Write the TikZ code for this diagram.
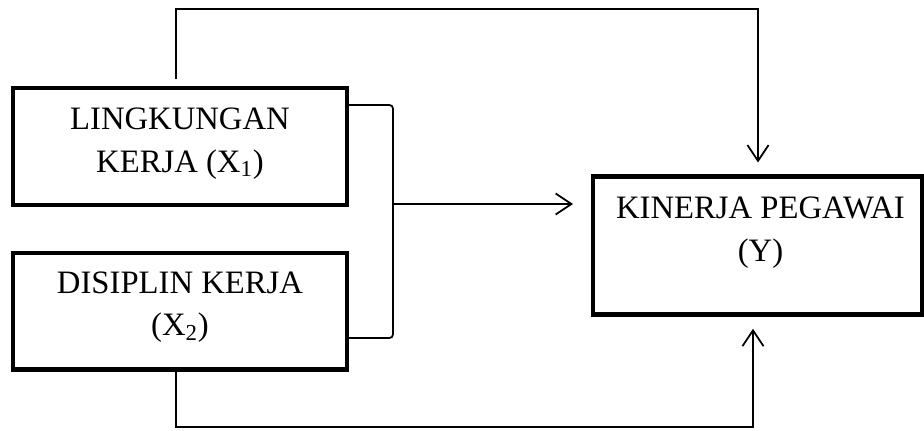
\documentclass[tikz,border=0pt]{standalone}
\usepackage{fontspec}
\setmainfont{Liberation Serif}
\usetikzlibrary{arrows.meta, positioning}

\begin{document}
\begin{tikzpicture}[x=0.02cm,y=-0.02cm,>={Straight Barb[length=9pt,width=12pt]},line width=1pt,
	var node/.style={rectangle,draw,line width=2.3pt,minimum width=6.68cm,minimum height=2.34cm,inner sep=0pt},
	var text/.style={align=center,font=\fontsize{18.6}{24.2}\selectfont}]
	
	\useasboundingbox (0,0) rectangle (924,430);
	
	\node[var node] (x1) at (180,146.5) {};
	\node[var node] (x2) [below=0.87cm of x1] {};
	\node[var node,minimum width=6.58cm,minimum height=2.76cm] (y) at (757.5,245.5) {};
	
	\node[var text,yshift=0.06cm] (t1) at (x1) {LINGKUNGAN\\KERJA (X\textsubscript{1})};
	\node[var text,yshift=0.08cm] (t2) at (x2) {DISIPLIN KERJA\\(X\textsubscript{2})};
	\node[var text,xshift=0.06cm,yshift=0.26cm] (ty) at (y) {KINERJA PEGAWAI\\(Y)};
	
	\draw[->] ([shift={(-4,-7)}]x1.north) -- ++(0,-70) -| ([shift={(0.5,-12)}]y.north);
	\draw[rounded corners=2pt] ([shift={(0,-41.5)}]x1.east) -- ++(44,0) |- ([shift={(0,27)}]x2.east);
	\draw[->] ([shift={(44,57.5)}]x1.east) -- ([shift={(-18,-41.5)}]y.west);
	\draw[->] ([xshift=-0.08cm]x2.south) -- ++(0,55.3) -| ([shift={(-4.5,12.3)}]y.south);
\end{tikzpicture}
\end{document}
